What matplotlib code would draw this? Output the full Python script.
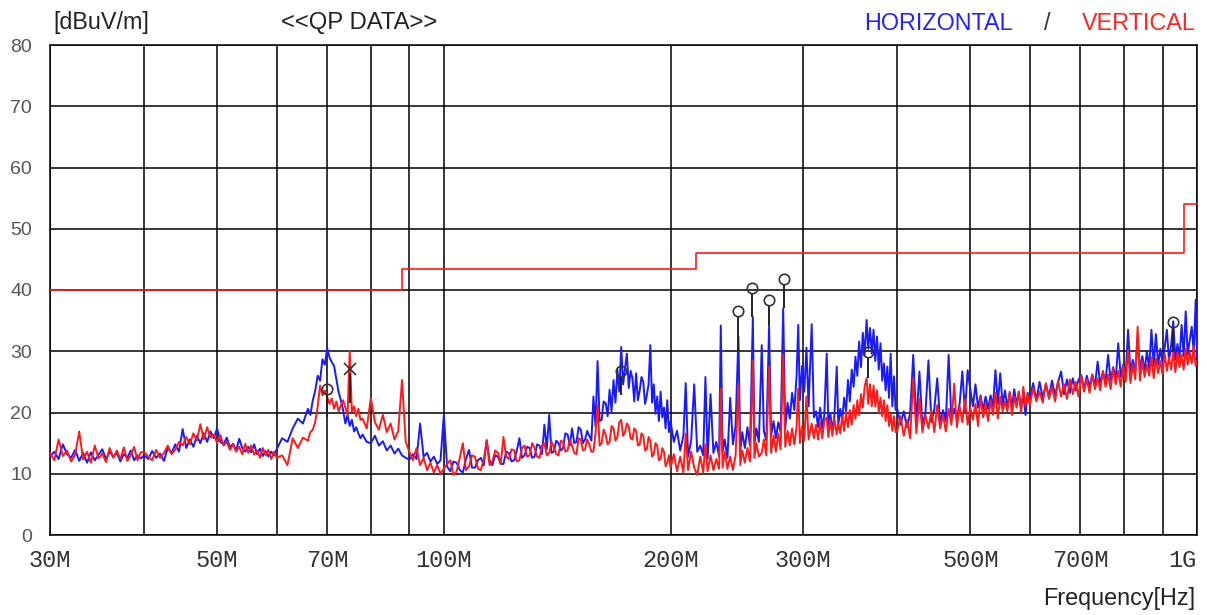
import matplotlib
matplotlib.use("Agg")
import matplotlib.pyplot as plt
from matplotlib.ticker import FixedLocator, NullFormatter

# ---------------- data (frequency in MHz, level in dBuV/m) ----------------
freq_mhz = [
    30.0, 30.4, 30.8, 31.2, 31.6, 32.0, 32.4, 32.8, 33.2, 33.6,
    34.0, 34.4, 34.8, 35.2, 35.6, 36.0, 36.4, 36.8, 37.2, 37.6,
    38.0, 38.4, 38.8, 39.2, 39.6,
    40.0, 40.5, 41.0, 41.5, 42.0, 42.5, 43.0, 43.5, 44.0, 44.5,
    45.0, 45.5, 46.0, 46.5, 47.0, 47.5, 48.0, 48.5, 49.0, 49.5,
    50.0, 50.5, 51.0, 51.5, 52.0, 52.5, 53.0, 53.5, 54.0, 54.5,
    55.0, 55.5, 56.0, 56.5, 57.0, 57.5, 58.0, 58.5, 59.0, 59.5,
    60, 61, 62, 63, 64, 65, 66, 66.5, 67, 67.5,
    68, 68.5, 69, 69.5, 70, 70.5, 71, 71.5, 72, 72.5,
    73, 73.5, 74, 74.5, 75, 75.5, 76, 76.5, 77, 77.5,
    78, 79, 80, 81, 82, 83, 84, 85, 86, 87,
    88, 89, 90, 91, 92, 93, 94, 95, 96, 97,
    98, 99,
    100, 101, 102, 103, 104, 105, 106, 107, 108, 109,
    110, 111, 112, 113, 114, 115, 116, 117, 118, 119,
    120, 121, 122, 123, 124, 125, 126, 127, 128, 129,
    130, 131, 132, 133, 134, 135, 136, 137, 138, 139,
    140, 141, 142, 143, 144, 145, 146, 147, 148, 149,
    150, 151, 152, 153, 154, 155, 156, 157, 158, 159,
    160, 161, 162, 163, 164, 165, 166, 167, 168, 169,
    170, 171, 172, 173, 174, 175, 176, 177, 178, 179,
    180, 181, 182, 183, 184, 185, 186, 187, 188, 189,
    190, 191, 192, 193, 194, 195, 196, 197, 198, 199,
    200, 202, 204, 206, 208, 209.5, 211, 213, 215, 217,
    219, 221, 222.5, 224, 226, 228, 230, 232, 233.2, 234.5,
    236, 238, 240, 242, 244, 246.1, 247.5, 249, 251, 253,
    255, 257.2, 258.5, 260, 262, 264.3, 266, 268, 270.3, 272,
    274, 276, 278, 280, 282.2, 284, 286, 288, 290, 292,
    294, 295.5, 297, 299, 301, 303, 305, 307.9, 310, 312,
    314, 316, 318, 320, 322.4, 324, 326, 328, 330, 332.4,
    334, 336, 338, 340, 342, 344, 346, 348, 350, 352,
    354, 356, 358, 360, 362, 364.2, 366, 368, 370, 372,
    374, 376, 378, 380, 382, 384, 386, 388, 390, 392,
    394, 396, 398,
    400, 404, 408, 412, 416, 420, 424, 428, 432, 436,
    440, 444, 448, 452, 456, 460, 464, 468, 472, 476,
    480, 484, 488, 492, 496, 500, 504, 508, 512, 516,
    520, 524, 528, 532, 536, 540, 544, 548, 552, 556,
    560, 564, 568, 572, 576, 580, 584, 588, 592, 596,
    600, 606, 612, 618, 624, 630, 636, 642, 648, 654,
    660, 666, 672, 678, 684, 690, 696, 702, 708, 714,
    720, 726, 732, 738, 744, 750, 756, 762, 768, 774,
    780, 786, 792, 798, 804, 810, 816, 822, 828, 834,
    840, 846, 852, 858, 864, 870, 876, 882, 888, 894,
    900, 906, 912, 918, 924, 930, 936, 942, 948, 954,
    960, 966, 972, 978, 984, 990, 996,
    1000,
]

horizontal_dbuv = [
    12.8, 13.6, 12.4, 14.8, 13.2, 12.6, 13.9, 12.1, 13.4, 11.8,
    13.5, 12.2, 13.1, 14.0, 12.4, 13.6, 12.8, 13.4, 12.0, 13.2,
    12.6, 13.8, 12.2, 13.0, 12.5,
    13.0, 12.4, 13.7, 12.6, 13.3, 12.1, 14.2, 13.4, 14.8, 13.6,
    17.3, 14.2, 15.6, 14.4, 16.2, 15.0, 16.6, 15.2, 16.9, 15.8,
    17.4, 15.2, 14.8, 15.9, 14.3, 14.9, 13.8, 15.7, 14.2, 13.6,
    14.4, 13.5, 14.8, 13.2, 14.1, 12.9, 13.7, 12.8, 13.6, 13.0,
    14.0, 15.8, 15.2, 17.4, 19.0, 18.2, 20.6, 19.6, 22.0, 23.6,
    26.0, 25.2, 28.7, 27.8, 30.5, 29.0, 28.2, 27.6, 25.4, 23.3,
    22.0, 20.4, 18.2, 19.6, 17.8, 18.8, 16.9, 17.6, 16.6, 15.8,
    16.4, 15.2, 15.0, 16.2, 14.6, 15.3, 13.8, 14.6, 13.3, 14.1,
    13.0, 12.6, 12.3, 13.2, 12.4, 18.2, 12.8, 13.4, 12.0, 12.8,
    11.6, 12.2,
    19.6, 11.2, 10.4, 12.0, 11.8, 10.6, 10.2, 12.4, 13.9, 11.0,
    11.0, 12.2, 12.6, 11.4, 15.5, 12.2, 11.4, 13.0, 12.8, 11.6,
    11.6, 13.6, 13.4, 12.0, 12.2, 13.8, 15.8, 12.6, 13.0, 14.4,
    14.2, 12.6, 12.8, 14.8, 14.6, 13.2, 18.0, 14.0, 19.6, 13.4,
    13.6, 15.4, 15.0, 13.8, 14.2, 16.6, 16.4, 14.6, 17.4, 15.0,
    15.2, 17.6, 17.2, 15.0, 15.6, 17.0, 16.2, 15.4, 22.6, 17.8,
    28.4, 18.6, 18.8, 21.8, 21.5, 19.4, 23.7, 20.2, 25.3, 21.6,
    27.0, 23.4, 30.7, 24.6, 27.2, 29.6, 24.0, 26.8, 25.6, 21.8,
    26.4, 22.0, 23.6, 25.8, 25.0, 21.4, 22.8, 24.6, 31.0, 21.6,
    24.6, 19.8, 22.6, 18.6, 23.4, 19.2, 20.8, 17.4, 22.0, 16.8,
    18.6, 15.2, 17.0, 13.8, 16.2, 24.8, 12.8, 15.4, 24.6, 13.6,
    14.6, 13.0, 25.8, 12.4, 23.0, 13.4, 15.2, 12.8, 34.2, 13.6,
    15.6, 12.6, 22.4, 14.8, 17.8, 32.4, 13.6, 16.8, 14.2, 17.6,
    14.6, 35.6, 15.0, 17.4, 15.2, 31.0, 17.0, 15.4, 34.0, 16.2,
    18.6, 15.8, 18.4, 16.8, 37.0, 17.4, 21.6, 19.0, 23.2, 20.4,
    26.0, 34.3, 22.0, 27.6, 23.4, 30.6, 21.0, 34.4, 19.2, 20.2,
    17.6, 20.8, 17.4, 19.6, 29.6, 17.8, 19.8, 17.0, 19.4, 27.5,
    18.0, 20.6, 18.8, 22.4, 20.2, 25.3, 21.8, 27.0, 24.2, 29.1,
    26.0, 31.6, 27.4, 33.0, 29.4, 35.1, 30.4, 33.8, 29.6, 33.5,
    28.4, 32.4, 27.0, 31.3, 25.2, 28.0, 23.6, 27.5, 22.4, 29.6,
    21.0, 25.9, 20.4,
    20.6, 18.0, 20.2, 17.6, 19.8, 29.4, 18.2, 26.7, 17.8, 20.0,
    28.5, 18.4, 20.6, 25.6, 18.2, 20.4, 18.6, 29.4, 18.8, 20.6,
    19.0, 21.4, 26.7, 20.0, 26.9, 23.8, 21.0, 24.6, 20.8, 22.8,
    20.4, 22.6, 20.6, 22.8, 21.0, 26.9, 21.4, 26.4, 21.2, 23.6,
    20.8, 23.2, 21.0, 23.8, 21.2, 23.4, 20.6, 23.0, 19.6, 23.2,
    22.2, 24.8, 22.0, 25.0, 22.4, 24.6, 22.6, 25.2, 22.8, 25.0,
    26.7, 23.0, 25.4, 23.2, 25.6, 23.6, 25.3, 26.1, 23.8, 26.0,
    24.2, 26.2, 24.4, 28.3, 24.6, 26.6, 25.0, 29.4, 25.2, 27.4,
    25.4, 31.3, 25.8, 27.8, 26.0, 33.5, 26.4, 28.6, 26.6, 32.1,
    27.0, 29.2, 26.8, 30.0, 27.2, 33.5, 27.6, 32.8, 27.8, 30.4,
    28.0, 30.6, 33.5, 28.4, 31.0, 34.9, 28.6, 31.2, 29.0, 34.3,
    29.2, 36.5, 29.4, 31.8, 34.0, 29.8, 38.4,
    29.0,
]

vertical_dbuv = [
    13.4, 12.2, 15.6, 12.9, 13.8, 12.0, 13.1, 16.9, 12.3, 13.6,
    11.8, 14.6, 12.5, 13.3, 11.9, 14.2, 12.6, 13.8, 12.4, 14.3,
    12.1, 13.0, 14.4, 12.2, 13.5,
    13.6, 12.8, 12.2, 13.9, 12.6, 13.4, 14.6, 13.2, 13.9, 15.2,
    14.6, 16.0, 14.8, 16.6, 15.4, 18.1, 15.6, 17.6, 15.9, 16.4,
    15.0, 16.3, 14.6, 15.2, 13.9, 14.8, 13.6, 14.4, 13.2, 14.9,
    13.4, 14.6, 13.1, 13.8, 12.6, 14.2, 13.0, 13.9, 12.4, 13.6,
    12.6, 13.0, 11.4, 15.8, 14.2, 15.9, 15.4, 16.8, 17.2, 18.5,
    21.0, 24.4, 22.8, 23.6, 22.6, 21.4, 22.3, 20.6, 21.8, 20.2,
    21.2, 22.0, 20.8, 19.6, 30.0, 20.1, 21.0, 19.4, 20.6, 18.8,
    19.0, 17.4, 22.4, 18.4, 17.2, 19.6, 16.8, 18.2, 15.6, 17.0,
    25.3, 15.2, 13.6, 12.2, 14.2, 11.4, 12.6, 10.6, 11.8, 10.2,
    11.4, 10.0,
    10.8, 11.6, 12.2, 9.8, 10.4, 12.6, 15.0, 10.6, 11.2, 13.0,
    12.8, 10.8, 10.6, 12.4, 15.4, 11.4, 12.0, 13.8, 13.4, 11.6,
    16.0, 12.8, 12.4, 14.0, 13.8, 12.0, 12.2, 14.2, 14.6, 12.8,
    13.0, 15.0, 14.2, 12.8, 12.6, 14.6, 15.0, 13.0, 13.4, 15.2,
    14.4, 13.2, 13.0, 15.4, 15.2, 13.6, 13.8, 15.6, 14.6, 13.4,
    13.2, 15.8, 15.6, 13.8, 14.0, 15.6, 14.8, 13.6, 13.6, 16.6,
    21.2, 14.6, 15.0, 17.2, 16.4, 14.8, 15.2, 17.8, 17.4, 15.4,
    16.0, 18.4, 18.8, 16.2, 16.8, 18.2, 17.8, 15.8, 15.6, 17.4,
    17.0, 14.6, 14.8, 16.6, 16.2, 13.8, 14.0, 16.0, 15.4, 12.8,
    13.2, 15.0, 14.6, 12.2, 12.4, 14.2, 13.6, 11.2, 11.8, 13.0,
    11.0, 13.2, 10.4, 12.8, 10.2, 16.6, 10.6, 13.6, 11.0, 9.8,
    12.8, 10.2, 14.8, 10.4, 13.0, 10.6, 12.4, 10.8, 23.9, 11.0,
    13.6, 10.8, 12.8, 10.6, 13.0, 24.6, 11.4, 13.8, 11.8, 14.2,
    12.0, 28.5, 12.6, 15.0, 12.8, 13.4, 15.6, 13.0, 27.5, 13.4,
    16.2, 13.6, 16.6, 14.0, 29.4, 14.4, 17.0, 14.6, 17.4, 14.8,
    17.6, 23.9, 15.0, 17.8, 15.4, 22.6, 15.6, 18.2, 15.8, 18.0,
    15.6, 18.4, 15.8, 18.6, 19.2, 16.0, 18.8, 16.2, 19.0, 16.4,
    18.2, 16.6, 19.4, 17.0, 20.0, 17.6, 20.4, 18.0, 21.2, 19.0,
    22.0, 19.6, 23.0, 20.8, 24.2, 25.6, 21.4, 24.6, 21.0, 24.4,
    21.0, 23.6, 20.0, 22.4, 19.4, 22.0, 18.6, 21.2, 17.8, 19.8,
    17.0, 19.4, 16.8,
    17.0, 19.4, 16.2, 18.8, 15.8, 25.6, 16.6, 22.3, 16.8, 19.6,
    17.4, 20.4, 16.8, 21.2, 17.4, 19.6, 16.9, 20.6, 18.0, 24.7,
    17.6, 21.0, 18.4, 22.2, 18.0, 20.8, 18.8, 21.4, 17.8, 22.6,
    19.2, 21.4, 18.6, 22.0, 19.6, 23.2, 19.0, 22.6, 20.2, 21.8,
    20.2, 23.4, 19.6, 22.6, 20.8, 23.4, 20.0, 24.2, 21.0, 23.0,
    21.2, 24.0, 21.8, 23.4, 21.6, 24.8, 22.2, 24.2, 21.8, 25.2,
    22.6, 24.6, 22.2, 25.4, 23.0, 25.0, 22.6, 26.0, 23.4, 25.4,
    23.2, 26.2, 23.8, 25.6, 23.6, 26.8, 24.2, 26.2, 23.8, 27.2,
    24.6, 26.8, 24.2, 27.6, 25.0, 30.2, 24.8, 27.8, 25.4, 34.0,
    25.2, 28.4, 25.8, 27.8, 26.0, 29.0, 25.6, 28.8, 26.4, 28.4,
    26.2, 29.6, 26.8, 29.0, 27.0, 30.0, 26.6, 29.8, 27.4, 29.4,
    27.0, 30.4, 27.8, 29.8, 28.0, 30.8, 27.6,
    28.4,
]

limit_freq_mhz = [30, 88, 88, 216, 216, 960, 960, 1000]
limit_dbuv = [40, 40, 43.5, 43.5, 46, 46, 54, 54]

marker_freq_mhz = [70.0, 171.7, 245.6, 256.7, 270.0, 282.9, 365.7, 929.7]
marker_dbuv = [23.9, 26.8, 36.5, 40.3, 38.3, 41.8, 29.9, 34.7]
marker_stem_low = [19.3, 22.9, 30.0, 35.6, 34.1, 37.0, 25.6, 29.9]

cross_freq_mhz = [75.06]
cross_dbuv = [27.1]
cross_stem_low = [21.5]

xtick_values = [30, 50, 70, 100, 200, 300, 500, 700, 1000]
xtick_labels = ["30M", "50M", "70M", "100M", "200M", "300M", "500M", "700M", "1G"]
xgrid_minor = [40, 60, 80, 90, 400, 600, 800, 900]
ytick_values = [0, 10, 20, 30, 40, 50, 60, 70, 80]

assert len(freq_mhz) == len(horizontal_dbuv) == len(vertical_dbuv), (
    len(freq_mhz), len(horizontal_dbuv), len(vertical_dbuv))

# ---------------- figure ----------------
W, H = 1207, 615
fig = plt.figure(figsize=(W / 100, H / 100), dpi=100)
ax = fig.add_axes([50 / W, 1 - 535 / H, (1197 - 50) / W, (535 - 45) / H])

ax.set_xscale("log")
ax.set_xlim(30, 1000)
ax.set_ylim(0, 80)

ax.plot(freq_mhz, horizontal_dbuv, color="#1a1aff", lw=1.4, zorder=3)
ax.plot(freq_mhz, vertical_dbuv, color="#ff1a1a", lw=1.4, zorder=4)
ax.plot(limit_freq_mhz, limit_dbuv, color="#ff1a1a", lw=1.2, zorder=5)

r = 0.85
ax.vlines(marker_freq_mhz, marker_stem_low, [m - r for m in marker_dbuv],
          colors="#222222", lw=1.4, zorder=6)
ax.plot(marker_freq_mhz, marker_dbuv, ls="none", marker="o", ms=7.5, mfc="none",
        mec="#333333", mew=1.2, zorder=7)
ax.vlines(cross_freq_mhz, cross_stem_low, [c - 0.6 for c in cross_dbuv],
          colors="#222222", lw=1.4, zorder=6)
ax.plot(cross_freq_mhz, cross_dbuv, ls="none", marker="x", ms=9, mec="#333333",
        mew=1.2, zorder=7)

# ticks and grid
ax.xaxis.set_major_locator(FixedLocator(xtick_values))
ax.xaxis.set_minor_locator(FixedLocator(xgrid_minor))
ax.xaxis.set_minor_formatter(NullFormatter())
ax.set_xticklabels(xtick_labels, family="Liberation Mono", fontsize=17, color="#333333")
lbls = ax.get_xticklabels()
lbls[-1].set_horizontalalignment("right")
ax.set_yticks(ytick_values)
ax.set_yticklabels([str(v) for v in ytick_values], family="Liberation Sans",
                   fontsize=14, color="#555555")
ax.tick_params(axis="x", which="both", length=0, pad=10)
ax.tick_params(axis="y", which="both", length=0, pad=13)
ax.grid(which="both", axis="both", color="black", lw=1.1, zorder=1)
ax.set_axisbelow(True)
for s in ax.spines.values():
    s.set_color("black")
    s.set_linewidth(1.1)

# texts
ty = 1 - 23 / H
fs = 16.8
fig.text(53 / W, ty, "[dBuV/m]", family="Liberation Sans", fontsize=fs, va="center", ha="left", color="#222222")
fig.text(281 / W, ty, "<<QP DATA>>", family="Liberation Sans", fontsize=17.2, va="center", ha="left", color="#222222")
fig.text(864 / W, ty, "HORIZONTAL", family="Liberation Sans", fontsize=fs, va="center", ha="left", color="#2222ff")
fig.text(1047 / W, ty, "/", family="Liberation Sans", fontsize=fs, va="center", ha="center", color="#333333")
fig.text(1196 / W, ty, "VERTICAL", family="Liberation Sans", fontsize=fs, va="center", ha="right", color="#ff2222")
fig.text(1195 / W, 1 - 598 / H, "Frequency[Hz]", family="Liberation Sans", fontsize=fs,
         va="center", ha="right", color="#222222")

fig.savefig("out.png", dpi=100, facecolor="white")
